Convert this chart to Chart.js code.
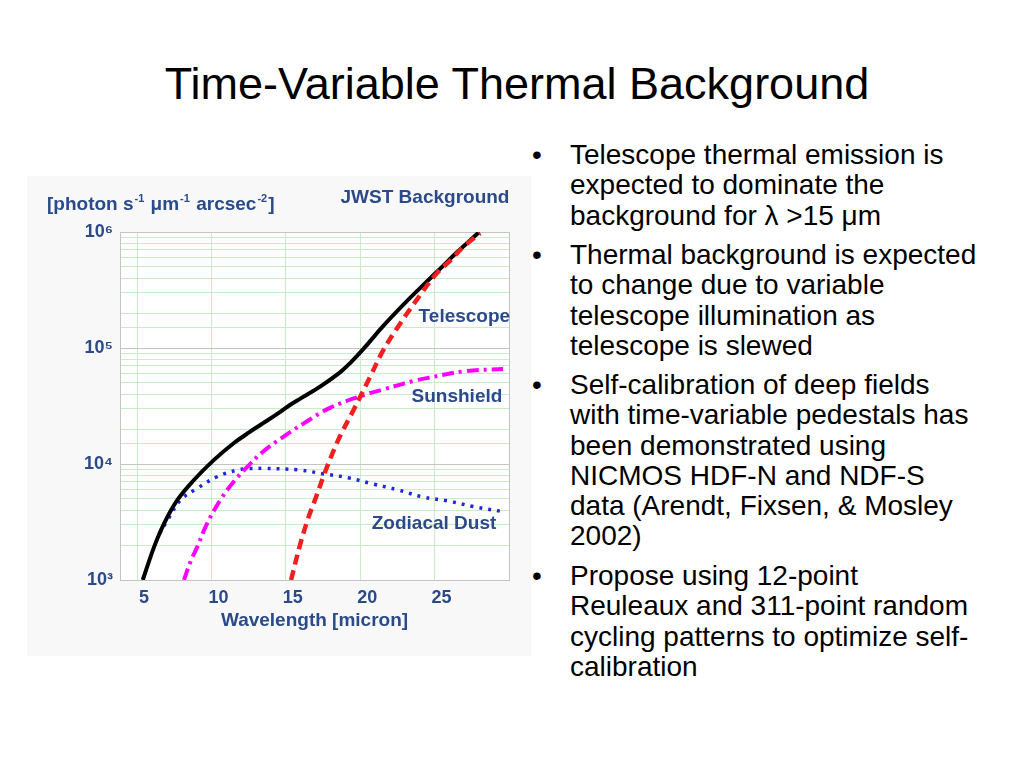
<!DOCTYPE html>
<html>
<head>
<meta charset="utf-8">
<script src="https://cdn.jsdelivr.net/npm/chart.js@4.4.1/dist/chart.umd.min.js"></script>
<style>
  body { margin: 0; background: #fff; }
  #page { position: relative; width: 1024px; height: 768px; overflow: hidden; font-family: "Liberation Sans", Arial, sans-serif; }
  #title { position: absolute; left: 0; width: 1034px; top: 58px; text-align: center; font-size: 45px; color: #000; white-space: nowrap; }
  #chartBox { position: absolute; left: 27px; top: 176px; width: 504px; height: 480px; background: #f8f8f8; }
  .para { position: absolute; left: 570px; font-size: 28px; line-height: 30.3px; color: #000; white-space: nowrap; }
  .bul { position: absolute; left: 532px; font-size: 28px; line-height: 30.3px; color: #000; }
</style>
</head>
<body>
<div id="page">
  <div id="title">Time-Variable Thermal Background</div>
  <div id="chartBox"><canvas id="bgChart" width="504" height="480"></canvas></div>

  <div class="bul" style="top:140px">•</div>
  <div class="para" style="top:140px">Telescope thermal emission is<br>expected to dominate the<br>background for λ &gt;15 μm</div>
  <div class="bul" style="top:240px">•</div>
  <div class="para" style="top:240px">Thermal background is expected<br>to change due to variable<br>telescope illumination as<br>telescope is slewed</div>
  <div class="bul" style="top:370px">•</div>
  <div class="para" style="top:370px">Self-calibration of deep fields<br>with time-variable pedestals has<br>been demonstrated using<br>NICMOS HDF-N and NDF-S<br>data (Arendt, Fixsen, &amp; Mosley<br>2002)</div>
  <div class="bul" style="top:561px">•</div>
  <div class="para" style="top:561px">Propose using 12-point<br>Reuleaux and 311-point random<br>cycling patterns to optimize self-<br>calibration</div>
</div>

<script>
// values (wavelength in micron)
const totalWl = [5.38, 6.15, 6.82, 7.71, 8.82, 10.15, 11.49, 12.6, 13.5, 14.5, 15.3, 16.0, 17.3, 18.64, 19.4, 20.2, 21.55, 23.1, 24.5, 25.5, 26.5, 28.0];
const totalVal = [1000, 1940, 3080, 4900, 7280, 10800, 15100, 19000, 22600, 27500, 32400, 36800, 46500, 61700, 75900, 97700, 155000, 251000, 376000, 501000, 668000, 1000000];

const telescopeWl = [15.35, 15.95, 16.5, 17.03, 17.6, 18.15, 18.7, 19.55, 20.67, 21.56, 22.69, 24.03, 25.14, 26.1, 26.93, 28.06];
const telescopeVal = [1000, 2000, 3400, 5200, 8300, 12500, 18000, 29200, 56600, 96200, 163000, 286000, 440000, 575000, 746000, 970000];

const sunshieldWl = [8.15, 8.6, 9.05, 9.71, 10.6, 11.49, 12.49, 13.5, 14.9, 16.2, 17.97, 20.3, 21.56, 23.7, 24.47, 27.0, 29.6];
const sunshieldVal = [1000, 1450, 1940, 3080, 4900, 7030, 9700, 12900, 17400, 22400, 30500, 39500, 44000, 52500, 55000, 63000, 66000];

const zodiWl = [6.5, 7.05, 7.93, 9.05, 10.38, 11.71, 12.4, 13.5, 15.8, 17.6, 19.2, 20.9, 22.5, 24.2, 25.9, 27.6, 29.5];
const zodiVal = [2500, 3290, 4900, 6170, 7760, 8870, 9120, 9150, 8900, 8200, 7600, 6700, 6000, 5200, 4800, 4300, 3900];

const xTicks = [5, 10, 15, 20, 25];
const supDigits = { 3: '³', 4: '⁴', 5: '⁵', 6: '⁶' };

const labelBlue = '#2b4a8a';
const gridGreen = '#c8eec8';
const gridGray = '#c4c4c4';

function pts(xs, ys) {
    return xs.map((x, i) => ({ x: x, y: ys[i] }));
}

// text drawn on top of the plot: header, unit label and curve names
const annotations = {
    id: 'annotations',
    beforeDraw(chart) {
        const { ctx, chartArea } = chart;
        ctx.save();
        ctx.fillStyle = '#ffffff';
        ctx.fillRect(chartArea.left, chartArea.top, chartArea.right - chartArea.left, chartArea.bottom - chartArea.top);
        ctx.restore();
    },
    afterDraw(chart) {
        const { ctx, chartArea } = chart;
        const xs = chart.scales.x, ys = chart.scales.y;
        ctx.save();
        ctx.fillStyle = labelBlue;
        ctx.textBaseline = 'middle';
        ctx.font = 'bold 19px "Liberation Sans", Arial, sans-serif';
        ctx.textAlign = 'center';
        ctx.fillText('JWST Background', chartArea.right - 84, 22);

        // unit label with superscripts
        const parts = [['[photon s', false], ['-1', true], [' μm', false], ['-1', true], [' arcsec', false], ['-2', true], [']', false]];
        let x = 20;
        ctx.textAlign = 'left';
        parts.forEach(p => {
            if (p[1]) {
                ctx.font = 'bold 11px "Liberation Sans", Arial, sans-serif';
                ctx.fillText(p[0], x + 1, 23);
            } else {
                ctx.font = 'bold 19px "Liberation Sans", Arial, sans-serif';
                ctx.fillText(p[0], x, 29);
            }
            x += ctx.measureText(p[0]).width + (p[1] ? 2 : 0);
        });

        ctx.font = 'bold 19px "Liberation Sans", Arial, sans-serif';
        ctx.textAlign = 'center';
        ctx.fillText('Telescope', xs.getPixelForValue(27.0), ys.getPixelForValue(185000));
        ctx.fillText('Sunshield', xs.getPixelForValue(26.5), ys.getPixelForValue(37900));
        ctx.fillText('Zodiacal Dust', xs.getPixelForValue(24.96), ys.getPixelForValue(3040));
        ctx.restore();
    }
};

const tickFont = { family: '"Liberation Sans", Arial, sans-serif', size: 18, weight: 'bold' };

new Chart(document.getElementById('bgChart'), {
    type: 'line',
    data: {
        datasets: [
            {
                label: 'Total',
                data: pts(totalWl, totalVal),
                borderColor: '#000000',
                borderWidth: 4,
                order: 1
            },
            {
                label: 'Telescope',
                data: pts(telescopeWl, telescopeVal),
                borderColor: '#f02020',
                borderWidth: 4.5,
                borderDash: [10, 6],
                order: 0
            },
            {
                label: 'Sunshield',
                data: pts(sunshieldWl, sunshieldVal),
                borderColor: '#ff00ff',
                borderWidth: 4,
                borderDash: [12, 5, 3, 5],
                order: 2
            },
            {
                label: 'Zodiacal Dust',
                data: pts(zodiWl, zodiVal),
                borderColor: '#2626d8',
                borderWidth: 3.5,
                borderDash: [3, 6],
                order: 3
            }
        ]
    },
    options: {
        responsive: false,
        animation: false,
        events: [],
        layout: { padding: { top: 56, right: 22, left: 0, bottom: 0 } },
        elements: {
            point: { radius: 0 },
            line: { tension: 0.4, fill: false }
        },
        plugins: {
            legend: { display: false },
            tooltip: { enabled: false }
        },
        scales: {
            x: {
                type: 'linear',
                min: 3.85,
                max: 30,
                afterBuildTicks: axis => {
                    axis.ticks = xTicks.concat([30]).map(v => ({ value: v }));
                },
                afterFit: axis => { axis.height = 76; },
                ticks: {
                    font: tickFont,
                    color: labelBlue,
                    padding: 7,
                    labelOffset: 7,
                    maxRotation: 0,
                    callback: v => (xTicks.includes(v) ? String(v) : '')
                },
                grid: {
                    drawTicks: false,
                    color: c => (c.tick && c.tick.value === 30 ? gridGray : gridGreen)
                },
                border: { color: gridGray },
                title: {
                    display: true,
                    text: 'Wavelength [micron]',
                    color: labelBlue,
                    font: { family: '"Liberation Sans", Arial, sans-serif', size: 19, weight: 'bold' },
                    padding: { top: 0, bottom: 24 }
                }
            },
            y: {
                type: 'logarithmic',
                min: 1000,
                max: 1000000,
                afterFit: axis => { axis.width = 93; },
                ticks: {
                    font: tickFont,
                    color: labelBlue,
                    padding: 7,
                    autoSkip: false,
                    callback: v => {
                        const e = Math.log10(v);
                        return Math.abs(e - Math.round(e)) < 1e-9 ? '10' + supDigits[Math.round(e)] : '';
                    }
                },
                grid: {
                    drawTicks: false,
                    color: c => {
                        if (!c.tick) return gridGreen;
                        const e = Math.log10(c.tick.value);
                        return Math.abs(e - Math.round(e)) < 1e-9 ? gridGray : gridGreen;
                    }
                },
                border: { color: gridGray }
            }
        }
    },
    plugins: [annotations]
});
</script>
</body>
</html>
